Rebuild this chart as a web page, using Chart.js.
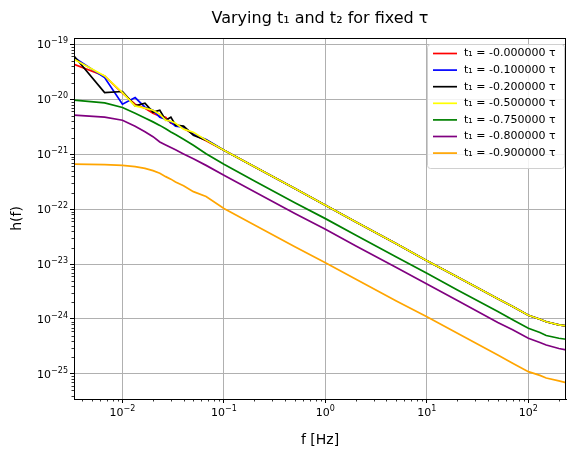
<!DOCTYPE html>
<html>
<head>
<meta charset="utf-8">
<script src="https://cdn.jsdelivr.net/npm/chart.js@4.4.0/dist/chart.umd.min.js"></script>
<style>
  html, body { margin: 0; padding: 0; background: #fff; }
</style>
</head>
<body>
<canvas id="strainChart" width="567" height="450"></canvas>
<script>
// frequencies [Hz] shared by every curve
var freqs = [0.00333, 0.00667, 0.01, 0.01333, 0.01667, 0.02, 0.02333, 0.02667, 0.03, 0.03333,
             0.04, 0.05, 0.0667, 0.1, 0.2, 0.5, 1, 2, 5, 10, 20, 50, 70, 100, 130, 150, 200, 235];

// h(f) for each t1 value
var h000 = [4.33e-20, 2.65e-20, 1.29e-20, 8.11e-21, 6.86e-21, 5.56e-21, 4.91e-21, 4.71e-21, 3.66e-21, 3.51e-21,
            2.97e-21, 2.31e-21, 1.76e-21, 1.18e-21, 5.9e-22, 2.37e-22, 1.17e-22, 5.85e-23, 2.35e-23, 1.15e-23,
            5.8e-24, 2.33e-24, 1.68e-24, 1.17e-24, 9.9e-25, 8.9e-25, 7.8e-25, 7.5e-25];
var h010 = [5.73e-20, 2.48e-20, 8.11e-21, 1.07e-20, 7.16e-21, 6.31e-21, 4.71e-21, 4.33e-21, 3.82e-21, 3.23e-21,
            3.10e-21, 2.31e-21, 1.84e-21, 1.18e-21, 5.9e-22, 2.37e-22, 1.17e-22, 5.85e-23, 2.35e-23, 1.15e-23,
            5.8e-24, 2.33e-24, 1.68e-24, 1.17e-24, 9.9e-25, 8.9e-25, 7.8e-25, 7.5e-25];
var h020 = [6.12e-20, 1.32e-20, 1.38e-20, 7.55e-21, 8.45e-21, 5.81e-21, 6.31e-21, 4.15e-21, 4.71e-21, 3.37e-21,
            3.23e-21, 2.21e-21, 1.80e-21, 1.18e-21, 5.9e-22, 2.37e-22, 1.17e-22, 5.85e-23, 2.35e-23, 1.15e-23,
            5.8e-24, 2.33e-24, 1.68e-24, 1.17e-24, 9.9e-25, 8.9e-25, 7.8e-25, 7.5e-25];
var h050 = [5.33e-20, 2.65e-20, 1.32e-20, 7.55e-21, 6.86e-21, 6.31e-21, 5.33e-21, 4.15e-21, 3.98e-21, 3.66e-21,
            2.85e-21, 2.51e-21, 1.80e-21, 1.18e-21, 5.9e-22, 2.37e-22, 1.17e-22, 5.85e-23, 2.35e-23, 1.15e-23,
            5.8e-24, 2.33e-24, 1.68e-24, 1.17e-24, 9.9e-25, 8.9e-25, 7.8e-25, 7.5e-25];
var h075 = [9.59e-21, 8.57e-21, 7.06e-21, 5.56e-21, 4.57e-21, 3.87e-21, 3.34e-21, 2.90e-21, 2.54e-21, 2.27e-21,
            1.87e-21, 1.45e-21, 1.02e-21, 6.53e-22, 3.26e-22, 1.31e-22, 6.71e-23, 3.35e-23, 1.35e-23, 6.78e-24,
            3.37e-24, 1.37e-24, 9.66e-25, 6.78e-25, 5.69e-25, 5.01e-25, 4.46e-25, 4.28e-25];
var h080 = [5.12e-21, 4.71e-21, 4.15e-21, 3.23e-21, 2.56e-21, 2.08e-21, 1.67e-21, 1.47e-21, 1.32e-21, 1.20e-21,
            1.01e-21, 8.24e-22, 6.25e-22, 4.15e-22, 2.07e-22, 8.32e-23, 4.30e-23, 2.14e-23, 8.61e-24, 4.33e-24,
            2.17e-24, 8.67e-25, 6.37e-25, 4.46e-25, 3.74e-25, 3.37e-25, 2.91e-25, 2.73e-25];
var h090 = [6.58e-22, 6.44e-22, 6.23e-22, 5.93e-22, 5.52e-22, 5.01e-22, 4.48e-22, 3.90e-22, 3.51e-22, 3.12e-22,
            2.67e-22, 2.08e-22, 1.69e-22, 1.03e-22, 5.14e-23, 2.07e-23, 1.06e-23, 5.31e-24, 2.13e-24, 1.10e-24,
            5.50e-25, 2.21e-25, 1.57e-25, 1.10e-25, 9.4e-26, 8.45e-26, 7.46e-26, 6.95e-26];

var seriesLabels = ['t\u2081 = -0.000000 \u03c4', 't\u2081 = -0.100000 \u03c4', 't\u2081 = -0.200000 \u03c4',
                    't\u2081 = -0.500000 \u03c4', 't\u2081 = -0.750000 \u03c4', 't\u2081 = -0.800000 \u03c4',
                    't\u2081 = -0.900000 \u03c4'];
var seriesColors = ['#ff0000', '#0000ff', '#000000', '#ffff00', '#008000', '#800080', '#ffa500'];
var seriesValues = [h000, h010, h020, h050, h075, h080, h090];

// decade ticks, labels written as 10 with an exponent
var xTickValues = [1e-2, 1e-1, 1, 10, 100];
var xTickExps = ['\u22122', '\u22121', '0', '1', '2'];
var yTickValues = [1e-25, 1e-24, 1e-23, 1e-22, 1e-21, 1e-20, 1e-19];
var yTickExps = ['\u221225', '\u221224', '\u221223', '\u221222', '\u221221', '\u221220', '\u221219'];

Chart.defaults.font.family = 'DejaVu Sans';
Chart.defaults.color = '#000';

// build datasets, later curves drawn on top like matplotlib
var datasets = seriesValues.map(function (vals, i) {
    return {
        label: seriesLabels[i],
        data: freqs.map(function (f, j) { return { x: f, y: vals[j] }; }),
        borderColor: seriesColors[i],
        backgroundColor: seriesColors[i],
        borderWidth: 1.7,
        pointRadius: 0,
        tension: 0,
        fill: false,
        order: seriesValues.length - i
    };
});

// minor ticks, decade labels and box around the plot
var frame = {
    id: 'frame',
    afterDraw: function (chart) {
        var ctx = chart.ctx, a = chart.chartArea;
        var xs = chart.scales.x, ys = chart.scales.y;
        ctx.save();
        ctx.strokeStyle = '#000';
        ctx.lineWidth = 0.8;
        ctx.beginPath();
        for (var e = -3; e <= 2; e++) {
            for (var m = 2; m <= 9; m++) {
                var v = m * Math.pow(10, e);
                if (v < xs.min || v > xs.max) continue;
                var px = Math.round(xs.getPixelForValue(v)) + 0.5;
                ctx.moveTo(px, a.bottom);
                ctx.lineTo(px, a.bottom + 2.5);
            }
        }
        for (var e2 = -26; e2 <= -19; e2++) {
            for (var m2 = 2; m2 <= 9; m2++) {
                var w = m2 * Math.pow(10, e2);
                if (w < ys.min || w > ys.max) continue;
                var py = Math.round(ys.getPixelForValue(w)) + 0.5;
                ctx.moveTo(a.left, py);
                ctx.lineTo(a.left - 2.5, py);
            }
        }
        ctx.stroke();
        ctx.lineWidth = 1;
        ctx.strokeRect(a.left + 0.5, a.top + 0.5, a.right - a.left - 1, a.bottom - a.top);

        var baseFont = '11px "DejaVu Sans"', expFont = '8px "DejaVu Sans"';
        ctx.fillStyle = '#000';
        ctx.textBaseline = 'alphabetic';
        ctx.textAlign = 'left';
        xTickValues.forEach(function (v, i) {
            ctx.font = baseFont;
            var wb = ctx.measureText('10').width;
            ctx.font = expFont;
            var we = ctx.measureText(xTickExps[i]).width;
            var x0 = xs.getPixelForValue(v) - (wb + we) / 2;
            var by = a.bottom + 17;
            ctx.font = baseFont;
            ctx.fillText('10', x0, by);
            ctx.font = expFont;
            ctx.fillText(xTickExps[i], x0 + wb, by - 5);
        });
        yTickValues.forEach(function (v, i) {
            ctx.font = expFont;
            var we = ctx.measureText(yTickExps[i]).width;
            ctx.font = baseFont;
            var wb = ctx.measureText('10').width;
            var right = a.left - 6;
            var py = ys.getPixelForValue(v);
            ctx.fillText('10', right - we - wb, py + 4);
            ctx.font = expFont;
            ctx.fillText(yTickExps[i], right - we, py - 1);
        });
        ctx.restore();
    }
};

// legend drawn inside the plot, top right
var innerLegend = {
    id: 'innerLegend',
    afterDraw: function (chart) {
        var ctx = chart.ctx, a = chart.chartArea;
        var rowH = 16.6, w = 137, h = 124;
        var x0 = a.right - w - 2, y0 = a.top + 6;
        ctx.save();
        ctx.fillStyle = 'rgba(255,255,255,0.85)';
        ctx.strokeStyle = '#d0d0d0';
        ctx.lineWidth = 1;
        ctx.beginPath();
        ctx.roundRect(x0 + 0.5, y0 + 0.5, w, h, 3);
        ctx.fill();
        ctx.stroke();
        ctx.font = '11px "DejaVu Sans"';
        ctx.textBaseline = 'middle';
        chart.data.datasets.forEach(function (ds, i) {
            var y = y0 + 9.5 + i * rowH;
            ctx.strokeStyle = ds.borderColor;
            ctx.lineWidth = 1.7;
            ctx.beginPath();
            ctx.moveTo(x0 + 6, y);
            ctx.lineTo(x0 + 30, y);
            ctx.stroke();
            ctx.fillStyle = '#000';
            ctx.fillText(ds.label, x0 + 37, y);
        });
        ctx.restore();
    }
};

var chart = new Chart(document.getElementById('strainChart').getContext('2d'), {
    type: 'line',
    data: { datasets: datasets },
    options: {
        responsive: false,
        animation: false,
        layout: { padding: { left: 0, right: 1, top: 0, bottom: 0 } },
        plugins: {
            legend: { display: false },
            tooltip: { enabled: false },
            title: {
                display: true,
                fullSize: false,
                text: 'Varying t\u2081 and t\u2082 for fixed \u03c4',
                font: { size: 16, weight: 'normal' },
                color: '#000',
                padding: { top: 9, bottom: 9.8 }
            }
        },
        scales: {
            x: {
                type: 'logarithmic',
                min: 0.00333,
                max: 235,
                afterBuildTicks: function (scale) {
                    scale.ticks = xTickValues.map(function (v) { return { value: v, major: true }; });
                },
                afterFit: function (scale) { scale.height = 51; },
                ticks: { display: false },
                grid: { color: '#b0b0b0', lineWidth: 1, tickColor: '#000', tickLength: 4 },
                border: { color: '#000', width: 1 },
                title: { display: true, text: 'f [Hz]', font: { size: 14 }, padding: { top: 4, bottom: 1 } }
            },
            y: {
                type: 'logarithmic',
                min: 3.5e-26,
                max: 1.3e-19,
                afterBuildTicks: function (scale) {
                    scale.ticks = yTickValues.map(function (v) { return { value: v, major: true }; });
                },
                afterFit: function (scale) { scale.width = 74; },
                ticks: { display: false },
                grid: { color: '#b0b0b0', lineWidth: 1, tickColor: '#000', tickLength: 4 },
                border: { color: '#000', width: 1 },
                title: { display: true, text: 'h(f)', font: { size: 14 }, padding: { top: 9, bottom: 4 } }
            }
        }
    },
    plugins: [frame, innerLegend]
});
</script>
</body>
</html>
